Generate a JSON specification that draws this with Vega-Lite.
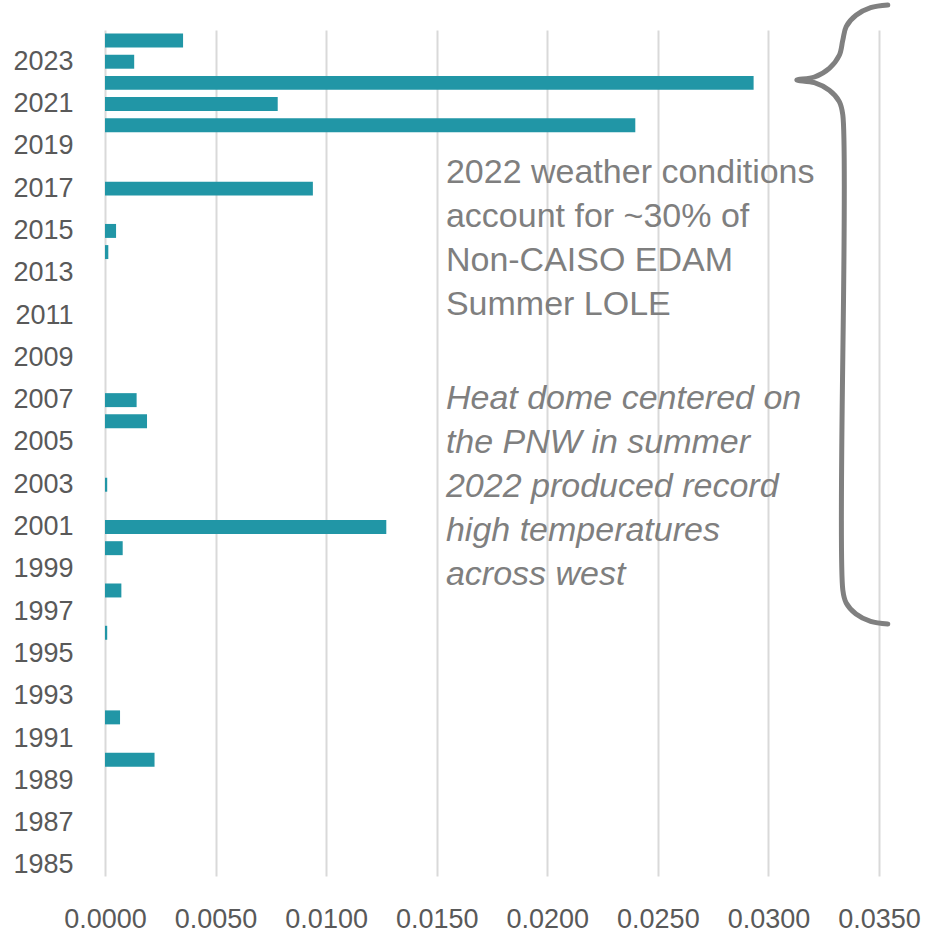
{
  "$schema": "https://vega.github.io/schema/vega-lite/v6.json",
  "width": 774,
  "height": 846,
  "autosize": {"type": "none"},
  "padding": {"left": 105, "top": 30, "right": 48, "bottom": 56},
  "background": "white",
  "config": {"view": {"stroke": null}, "font": "Liberation Sans"},
  "datasets": {
    "lole": [
      {"year": 2024, "lole": 0.00353},
      {"year": 2023, "lole": 0.00132},
      {"year": 2022, "lole": 0.02933},
      {"year": 2021, "lole": 0.00781},
      {"year": 2020, "lole": 0.02398},
      {"year": 2019, "lole": 0},
      {"year": 2018, "lole": 0},
      {"year": 2017, "lole": 0.0094},
      {"year": 2016, "lole": 0},
      {"year": 2015, "lole": 0.0005},
      {"year": 2014, "lole": 0.00015},
      {"year": 2013, "lole": 0},
      {"year": 2012, "lole": 0},
      {"year": 2011, "lole": 0},
      {"year": 2010, "lole": 0},
      {"year": 2009, "lole": 0},
      {"year": 2008, "lole": 0},
      {"year": 2007, "lole": 0.00143},
      {"year": 2006, "lole": 0.0019},
      {"year": 2005, "lole": 0},
      {"year": 2004, "lole": 0},
      {"year": 2003, "lole": 0.0001},
      {"year": 2002, "lole": 0},
      {"year": 2001, "lole": 0.01272},
      {"year": 2000, "lole": 0.0008},
      {"year": 1999, "lole": 0},
      {"year": 1998, "lole": 0.00074},
      {"year": 1997, "lole": 0},
      {"year": 1996, "lole": 0.0001},
      {"year": 1995, "lole": 0},
      {"year": 1994, "lole": 0},
      {"year": 1993, "lole": 0},
      {"year": 1992, "lole": 0.00068},
      {"year": 1991, "lole": 0},
      {"year": 1990, "lole": 0.00224},
      {"year": 1989, "lole": 0},
      {"year": 1988, "lole": 0},
      {"year": 1987, "lole": 0},
      {"year": 1986, "lole": 0},
      {"year": 1985, "lole": 0}
    ],
    "brace": [
      {"pt": 1, "v": 0.035398, "yr": 2025.682},
      {"pt": 2, "v": 0.034621, "yr": 2025.556},
      {"pt": 3, "v": 0.03396, "yr": 2025.195},
      {"pt": 4, "v": 0.033517, "yr": 2024.661},
      {"pt": 5, "v": 0.033364, "yr": 2024.027},
      {"pt": 6, "v": 0.033205, "yr": 2023.304},
      {"pt": 7, "v": 0.032753, "yr": 2022.689},
      {"pt": 8, "v": 0.03208, "yr": 2022.278},
      {"pt": 9, "v": 0.031284, "yr": 2022.136},
      {"pt": 10, "v": 0.03208, "yr": 2022.008},
      {"pt": 11, "v": 0.032753, "yr": 2021.649},
      {"pt": 12, "v": 0.033205, "yr": 2021.115},
      {"pt": 13, "v": 0.033364, "yr": 2020.481},
      {"pt": 14, "v": 0.033364, "yr": 1998.022},
      {"pt": 15, "v": 0.033517, "yr": 1997.408},
      {"pt": 16, "v": 0.03396, "yr": 1996.888},
      {"pt": 17, "v": 0.034621, "yr": 1996.538},
      {"pt": 18, "v": 0.035398, "yr": 1996.415}
    ],
    "note1": [
      {"text": "2022 weather conditions\naccount for ~30% of\nNon-CAISO EDAM\nSummer LOLE"}
    ],
    "note2": [
      {"text": "Heat dome centered on\nthe PNW in summer\n2022 produced record\nhigh temperatures\nacross west"}
    ]
  },
  "layer": [
    {
      "data": {"name": "lole"},
      "mark": {"type": "bar", "color": "#2196A6"},
      "encoding": {
        "y": {
          "field": "year",
          "type": "ordinal",
          "sort": "descending",
          "scale": {"paddingInner": 0.34, "paddingOuter": 0.17},
          "axis": {
            "values": [1985, 1987, 1989, 1991, 1993, 1995, 1997, 1999, 2001, 2003, 2005, 2007, 2009, 2011, 2013, 2015, 2017, 2019, 2021, 2023],
            "title": null,
            "domain": false,
            "ticks": false,
            "grid": false,
            "labelOverlap": false,
            "labelFontSize": 27,
            "labelColor": "#595959",
            "labelPadding": 32
          }
        },
        "x": {
          "field": "lole",
          "type": "quantitative",
          "scale": {"domain": [0, 0.035], "nice": false, "zero": true},
          "axis": {
            "values": [0, 0.005, 0.01, 0.015, 0.02, 0.025, 0.03, 0.035],
            "format": ".4f",
            "title": null,
            "domain": false,
            "ticks": false,
            "grid": true,
            "gridColor": "#d9d9d9",
            "gridWidth": 2,
            "labelOverlap": false,
            "labelBound": false,
            "labelFlush": false,
            "labelFontSize": 27,
            "labelColor": "#595959",
            "labelPadding": 30
          }
        }
      }
    },
    {
      "data": {"name": "brace"},
      "mark": {"type": "line", "color": "#808080", "strokeWidth": 5, "interpolate": "catmull-rom", "strokeCap": "round", "clip": false},
      "encoding": {
        "x": {"field": "v", "type": "quantitative", "scale": {"domain": [0, 0.035], "nice": false, "zero": true}, "axis": null},
        "y": {"field": "yr", "type": "quantitative", "scale": {"domain": [1984.5, 2024.5], "nice": false, "zero": false}, "axis": null},
        "order": {"field": "pt", "type": "quantitative"}
      }
    },
    {
      "data": {"name": "note1"},
      "mark": {"type": "text", "align": "left", "baseline": "alphabetic", "fontSize": 34, "color": "#7f7f7f", "lineBreak": "\n", "lineHeight": 44},
      "encoding": {
        "x": {"datum": 0.015416, "type": "quantitative", "scale": {"domain": [0, 0.035], "nice": false, "zero": true}, "axis": null},
        "y": {"datum": 2017.27, "type": "quantitative", "scale": {"domain": [1984.5, 2024.5], "nice": false, "zero": false}, "axis": null},
        "text": {"field": "text", "type": "nominal"}
      }
    },
    {
      "data": {"name": "note2"},
      "mark": {"type": "text", "align": "left", "baseline": "alphabetic", "fontSize": 34, "fontStyle": "italic", "color": "#7f7f7f", "lineBreak": "\n", "lineHeight": 44},
      "encoding": {
        "x": {"datum": 0.015416, "type": "quantitative", "scale": {"domain": [0, 0.035], "nice": false, "zero": true}, "axis": null},
        "y": {"datum": 2006.58, "type": "quantitative", "scale": {"domain": [1984.5, 2024.5], "nice": false, "zero": false}, "axis": null},
        "text": {"field": "text", "type": "nominal"}
      }
    }
  ],
  "resolve": {"scale": {"x": "independent", "y": "independent"}}
}
